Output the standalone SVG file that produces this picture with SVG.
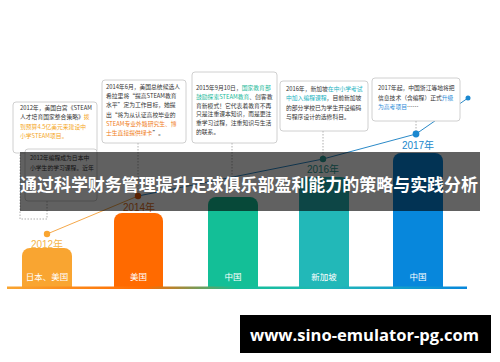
<svg xmlns="http://www.w3.org/2000/svg" width="500" height="362" viewBox="0 0 500 362">
<defs>
<style>
.box{fill:#fff;stroke:#c4c4c4;stroke-width:0.8}
.bt{font-family:"Noto Sans CJK SC","Noto Sans",sans-serif;font-size:5.8px;fill:#333}
.o1{fill:#f5a623}.o2{fill:#f07d1a}.g{fill:#19b99a}.c{fill:#22b3bf}.b{fill:#2a8cd8}
.dot{stroke:#999;stroke-width:0.8;stroke-dasharray:1.5 1.5;fill:none}
.yr{font-family:"Liberation Sans","Noto Sans CJK SC",sans-serif;font-size:10px;text-anchor:middle}
.bl{font-family:"Noto Sans CJK SC",sans-serif;font-size:8.5px;fill:#fff;text-anchor:middle}
</style>
<linearGradient id="base" x1="0" y1="0" x2="1" y2="0">
<stop offset="0" stop-color="#f9a531"/>
<stop offset="0.3" stop-color="#ff6a00"/>
<stop offset="0.5" stop-color="#13bf97"/>
<stop offset="0.7" stop-color="#22b8b8"/>
<stop offset="1" stop-color="#0787dc"/>
</linearGradient>
</defs>
<rect width="500" height="362" fill="#fff"/>

<g id="connectors">
<path class="dot" d="M47 201V219H20V153"/>
<path class="dot" d="M138 143V193"/>
<path class="dot" d="M232 143V183"/>
<path class="dot" d="M323 131V156"/>
<path class="dot" d="M416 121V131"/>
<path d="M47 234L138 196" stroke="#f5a84a" stroke-width="1" fill="none"/>
<path d="M138 196L323 159L416 134L468 98" stroke="#2b8ac8" stroke-width="1" fill="none"/>
</g>

<g id="bar-2012">
<path d="M22 287V256a8 8 0 0 1 8-8h34a8 8 0 0 1 8 8V287Z" fill="#f9a531"/>
<text class="bl" x="47" y="280">日本、美国</text>
<circle cx="47" cy="234" r="3.2" fill="#f9a531"/>
<text class="yr" x="47" y="248" fill="#f5b548">2012年</text>
</g>
<g id="bar-2014">
<path d="M114 287V221a8 8 0 0 1 8-8h33a8 8 0 0 1 8 8V287Z" fill="#ff6a00"/>
<text class="bl" x="138.5" y="280">美国</text>
<circle cx="138" cy="196" r="3.2" fill="#e85a08"/>
<text class="yr" x="139" y="211" fill="#e0701a">2014年</text>
</g>
<g id="bar-2015">
<path d="M208 287V205a8 8 0 0 1 8-8h34a8 8 0 0 1 8 8V287Z" fill="#13bf97"/>
<text class="bl" x="233" y="280">中国</text>
</g>
<g id="bar-2016">
<path d="M299 287V185a8 8 0 0 1 8-8h34a8 8 0 0 1 8 8V287Z" fill="#22b8b8"/>
<text class="bl" x="324" y="280">新加坡</text>
<circle cx="323" cy="159" r="3.2" fill="#2a9d95"/>
<text class="yr" x="323" y="172.5" fill="#2a9d95">2016年</text>
</g>
<g id="bar-2017">
<path d="M393 287V161a8 8 0 0 1 8-8h34a8 8 0 0 1 8 8V287Z" fill="#0787dc"/>
<text class="bl" x="418" y="280">中国</text>
<circle cx="416" cy="134" r="3.4" fill="#1a88d0"/>
<text class="yr" x="418" y="148.5" fill="#1a88cc">2017年</text>
<circle cx="468" cy="98" r="2.5" fill="#1a88d0"/>
</g>
<rect x="7" y="286.5" width="460" height="2.5" fill="url(#base)"/>

<g id="box-2012">
<rect class="box" x="13" y="102" width="84" height="51" rx="3"/>
<text class="bt" x="20" y="110"><tspan>2012年，美国白宫《STEAM</tspan><tspan x="20" dy="9.3">人才培育国家整合策略》<tspan class="o1">拨</tspan></tspan><tspan x="20" dy="9.3" class="o1">到预算4.5亿美元来建设中</tspan><tspan x="20" dy="9.3" class="o1">小学STEAM项目。</tspan></text>
</g>
<g id="box-2012b">
<rect class="box" x="25" y="149" width="72" height="52" rx="3"/>
<text class="bt" x="30" y="160"><tspan>2012年编程成为日本中</tspan><tspan x="30" dy="9.5">小学生的学习课程。近年</tspan></text>
</g>
<g id="box-2014">
<rect class="box" x="102" y="80" width="84" height="63" rx="3"/>
<text class="bt" x="106" y="89"><tspan>2014年6月，美国总统候选人</tspan><tspan x="106" dy="9.2">希拉里将“提高STEAM教育</tspan><tspan x="106" dy="9.2">水平”定为工作目标，她提</tspan><tspan x="106" dy="9.2">出“将为从认证高校毕业的</tspan><tspan x="106" dy="9.2" class="o2">STEAM专业外籍研究生、博</tspan><tspan x="106" dy="9.2"><tspan class="o2">士生直接提供绿卡</tspan>”。</tspan></text>
</g>
<g id="box-2015">
<rect class="box" x="192" y="72" width="85" height="71" rx="3"/>
<text class="bt" x="196" y="90"><tspan>2015年9月10日，<tspan class="g">国家教育部</tspan></tspan><tspan x="196" dy="8.8"><tspan class="g">鼓励探索STEAM教育</tspan>、创客教</tspan><tspan x="196" dy="8.8">育新模式！它代表着教育不再</tspan><tspan x="196" dy="8.8">只是注重课本知识，而是更注</tspan><tspan x="196" dy="8.8">重学习过程，注重知识与生活</tspan><tspan x="196" dy="8.8">的联系。</tspan></text>
</g>
<g id="box-2016">
<rect class="box" x="280" y="81" width="88" height="50" rx="3"/>
<text class="bt" x="286" y="91"><tspan>2016年，新加坡<tspan class="c">在中小学考试</tspan></tspan><tspan x="286" dy="9.3"><tspan class="c">中加入编程课程</tspan>，目前新加坡</tspan><tspan x="286" dy="9.3">的部分学校已为学生开设编码</tspan><tspan x="286" dy="9.3">与程序设计的选修科目。</tspan></text>
</g>
<g id="box-2017">
<rect class="box" x="372" y="78" width="88" height="43" rx="3"/>
<text class="bt" x="378" y="90"><tspan>2017年起，中国浙江等地将把</tspan><tspan x="378" dy="9.5">信息技术（含编程）正式<tspan class="b">升级</tspan></tspan><tspan x="378" dy="9.5"><tspan class="b">为高考项目</tspan>……</tspan></text>
</g>

<g id="title">
<rect x="20" y="152" width="460" height="59" fill="#000" opacity="0.62"/>
<text x="20" y="190.5" textLength="458" lengthAdjust="spacingAndGlyphs" font-family="Noto Sans CJK SC, sans-serif" font-weight="700" font-size="17.5" fill="#fff">通过科学财务管理提升足球俱乐部盈利能力的策略与实践分析</text>
</g>

<g id="watermark">
<rect x="240" y="315" width="251" height="38" fill="#000"/>
<text x="250" y="341" textLength="229" lengthAdjust="spacingAndGlyphs" font-family="Open Sans, sans-serif" font-weight="700" font-size="16" fill="#fff">www.sino-emulator-pg.com</text>
</g>
</svg>
